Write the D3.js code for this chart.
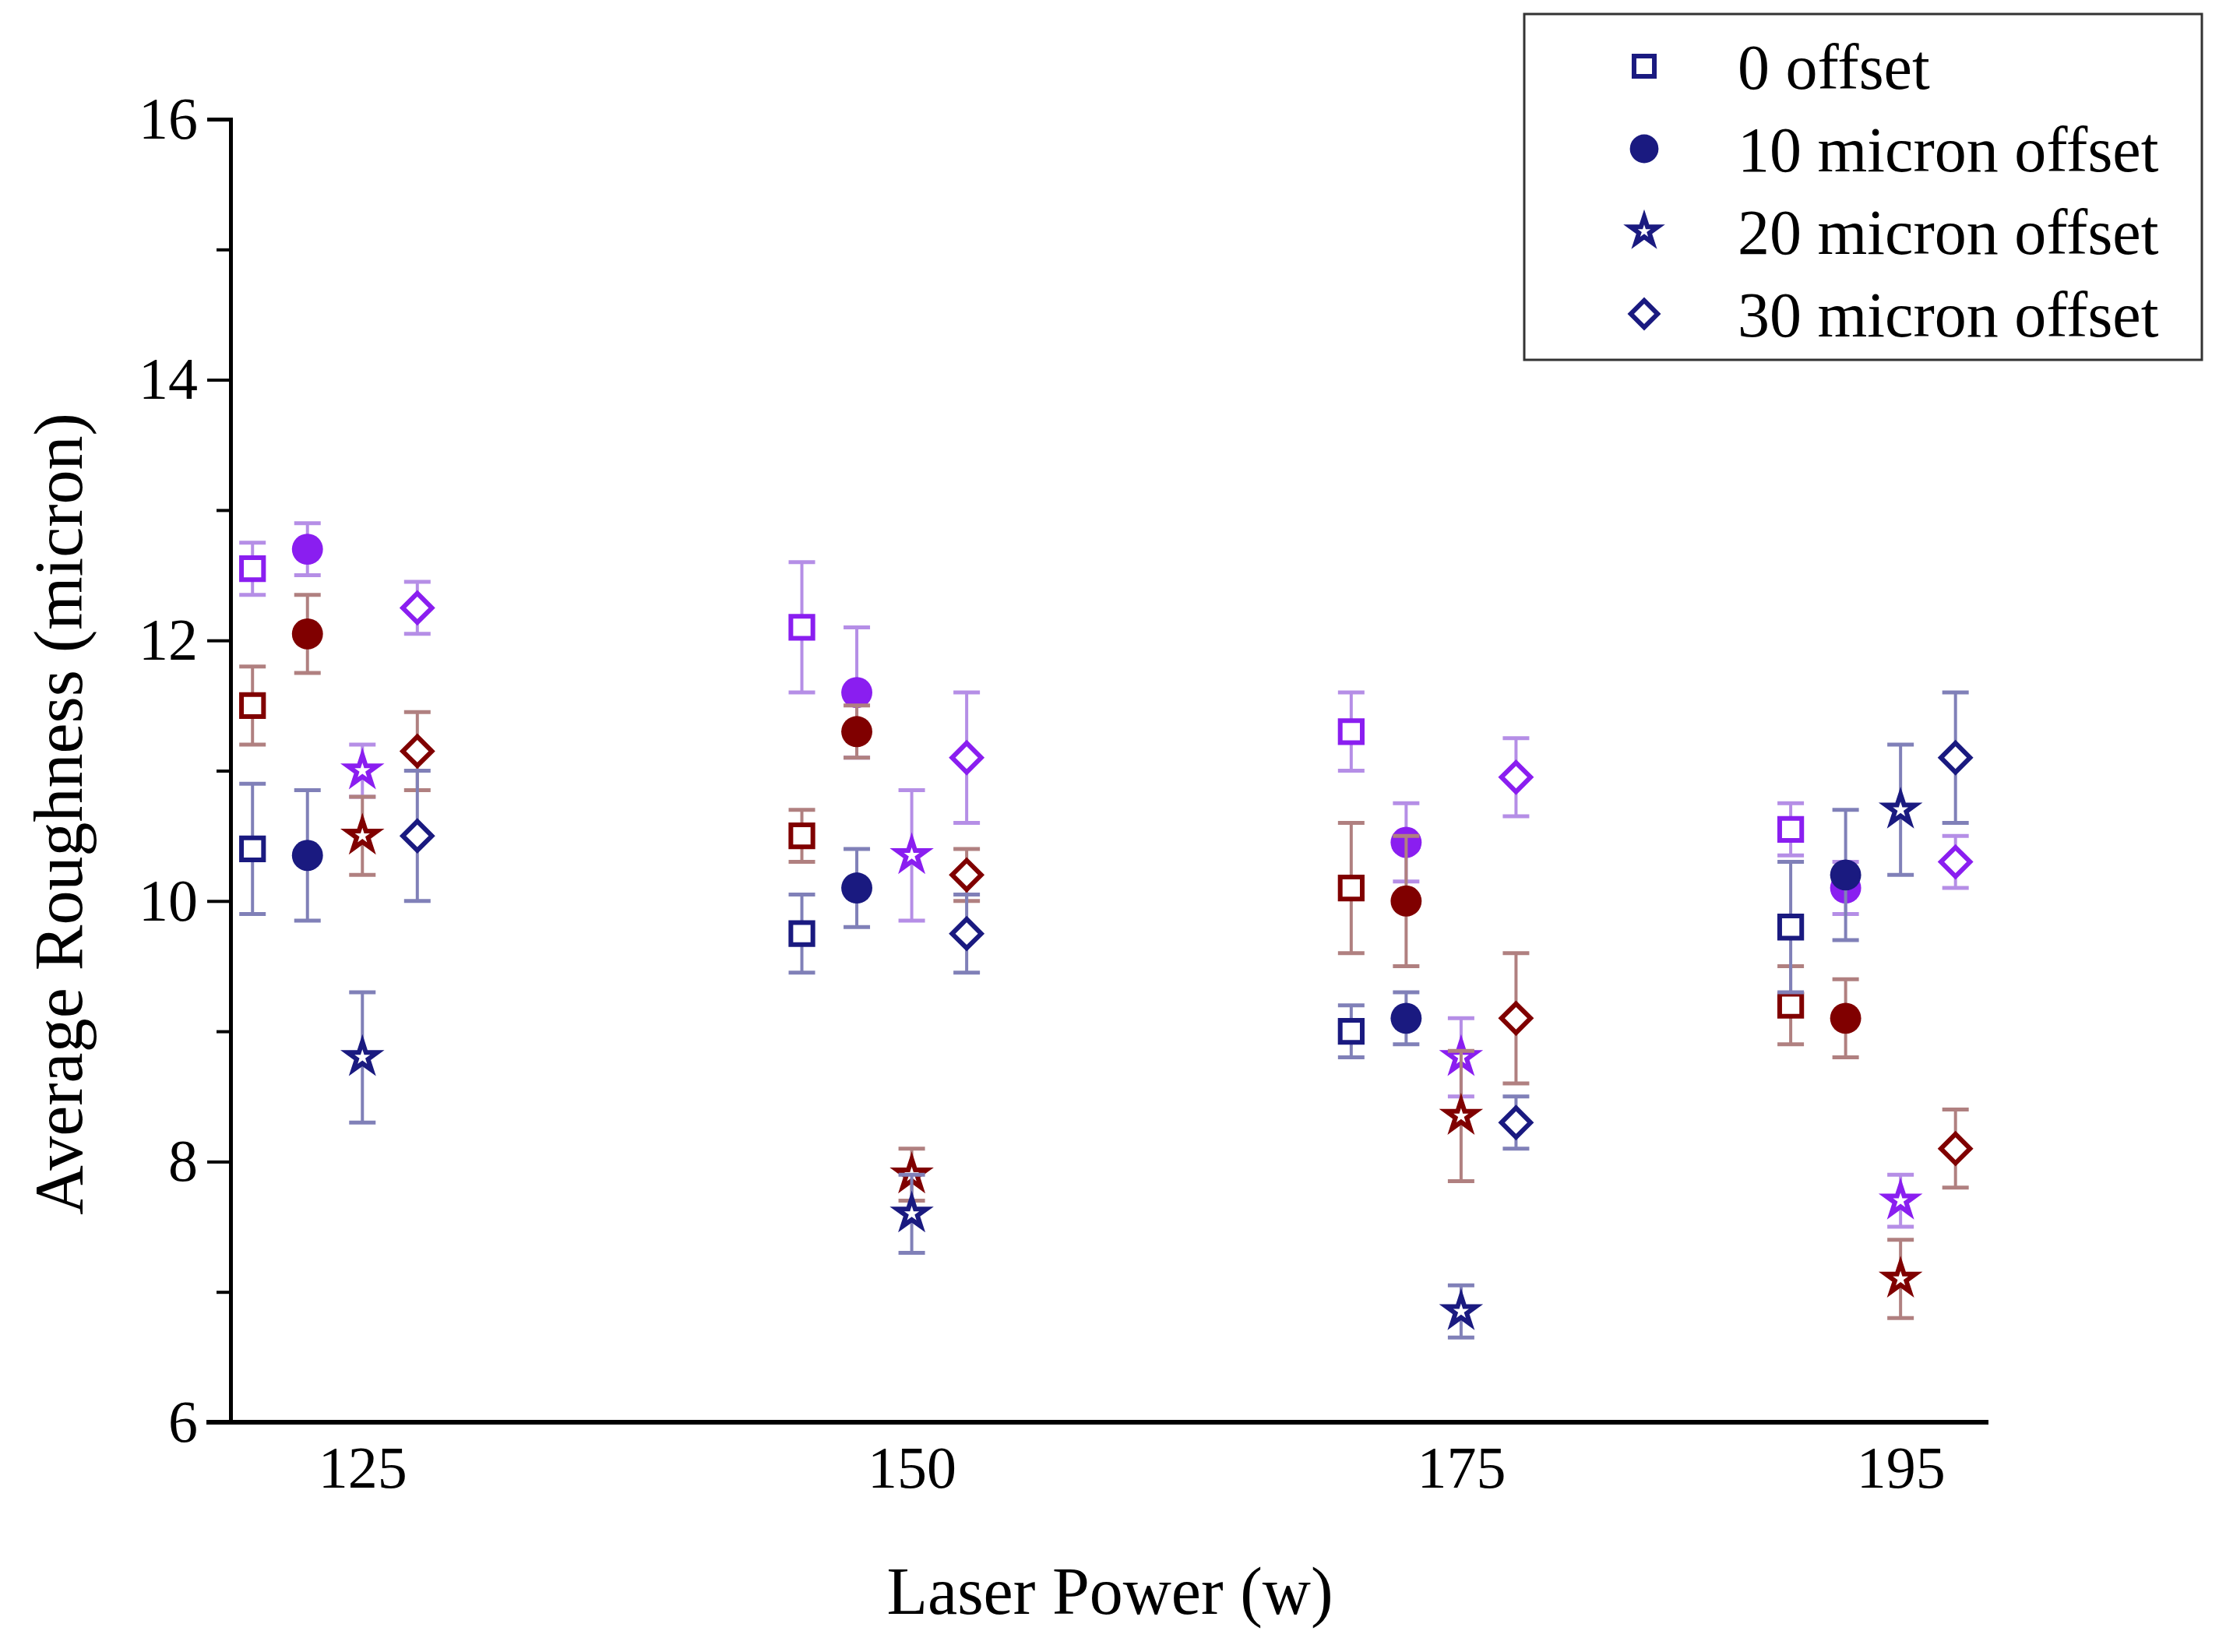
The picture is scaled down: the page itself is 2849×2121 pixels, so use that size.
<!DOCTYPE html>
<html><head><meta charset="utf-8">
<script src="https://cdnjs.cloudflare.com/ajax/libs/d3/7.8.5/d3.min.js"></script>
<style>body{margin:0;background:#fff}text{font-family:"Liberation Serif","Times New Roman",serif}</style>
</head><body><svg id="c" width="2849" height="2121"></svg>
<script>
const powers=[125,150,175,195];
const seriesNames=["0 offset","10 micron offset","20 micron offset","30 micron offset"];
const shapes=["square","circle","star","diamond"];
const offsets=[-5,-2.5,0,2.5];
const colorNames=["purple","red","navy"];
const colors={purple:"#8a1ef0",red:"#800000",navy:"#1a1a80"};
const errColors={purple:"#b58ee6",red:"#b08080",navy:"#8080b8"};
const values={
 square:{purple:[12.55,12.1,11.3,10.55],red:[11.5,10.5,10.1,9.2],navy:[10.4,9.75,9.0,9.8]},
 circle:{purple:[12.7,11.6,10.45,10.1],red:[12.05,11.3,10.0,9.1],navy:[10.35,10.1,9.1,10.2]},
 star:{purple:[11.0,10.35,8.8,7.7],red:[10.5,7.9,8.35,7.1],navy:[8.8,7.6,6.85,10.7]},
 diamond:{purple:[12.25,11.1,10.95,10.3],red:[11.15,10.2,9.1,8.1],navy:[10.5,9.75,8.3,11.1]}
};
const errors={purple:[0.2,0.5,0.3,0.2],red:[0.3,0.2,0.5,0.3],navy:[0.5,0.3,0.2,0.5]};
const yTicks=[6,8,10,12,14,16];

const svg=d3.select("#c");
const x=d3.scaleLinear().domain([119,199]).range([296,2553]);
const y=d3.scaleLinear().domain([6,16]).range([1826,153]);

const yAx=d3.axisLeft(y).tickValues(d3.range(6,16.01,1)).tickSize(30).tickFormat(d=>yTicks.includes(d)?d:"");
const gy=svg.append("g").attr("transform","translate(296,0)").call(yAx);
gy.selectAll(".tick line").attr("stroke","#000").attr("stroke-width",4).attr("x2",d=>yTicks.includes(d)?-30:-18);
gy.select(".domain").attr("stroke","#000").attr("stroke-width",5);
gy.selectAll("text").attr("font-size",76).attr("x",-42).attr("font-family","Liberation Serif");
const xAx=d3.axisBottom(x).tickValues(powers).tickSize(0).tickPadding(30);
const gx=svg.append("g").attr("transform","translate(0,1826)").call(xAx);
gx.select(".domain").remove();
gx.append("line").attr("x1",265).attr("x2",2553).attr("stroke","#000").attr("stroke-width",6);
gx.selectAll("text").attr("font-size",76).attr("font-family","Liberation Serif").attr("fill","#000");

svg.append("text").attr("x",1425).attr("y",2072).attr("text-anchor","middle").attr("font-size",86).text("Laser Power (w)");
svg.append("text").attr("transform","translate(105,1045) rotate(-90)").attr("text-anchor","middle").attr("font-size",88).text("Average Roughness (micron)");

const symTypes={square:d3.symbolSquare,circle:d3.symbolCircle,star:d3.symbolStar,diamond:d3.symbolSquare};
const symSize={square:800,circle:1250,star:450,diamond:700};
function marker(g,shape,col,cx,cy,sc=1){
  const fill=shape==="circle";
  g.append("path").attr("d",d3.symbol().type(symTypes[shape]).size(symSize[shape]*sc)())
   .attr("transform",`translate(${cx},${cy})`+(shape==="diamond"?" rotate(45)":""))
   .attr("fill",fill?col:"#fff").attr("stroke",col).attr("stroke-width",fill?0:6).attr("stroke-linejoin","miter");
}
const gp=svg.append("g");
shapes.forEach((sh,si)=>{
  colorNames.forEach(cn=>{
    powers.forEach((p,pi)=>{
      const v=values[sh][cn][pi], e=errors[cn][pi];
      const cx=x(p+offsets[si]);
      const g=gp.append("g");
      g.append("line").attr("x1",cx).attr("x2",cx).attr("y1",y(v+e)).attr("y2",y(v-e)).attr("stroke",errColors[cn]).attr("stroke-width",4);
      [v+e,v-e].forEach(t=>g.append("line").attr("x1",cx-17).attr("x2",cx+17).attr("y1",y(t)).attr("y2",y(t)).attr("stroke",errColors[cn]).attr("stroke-width",5));
      marker(g,sh,colors[cn],cx,y(v));
    });
  });
});

const lg=svg.append("g");
lg.append("rect").attr("x",1957).attr("y",18).attr("width",870).attr("height",444).attr("fill","#fff").attr("stroke","#333").attr("stroke-width",3);
seriesNames.forEach((n,i)=>{
  const ly=85+i*106;
  marker(lg,shapes[i],colors.navy,2111,ly,0.85);
  lg.append("text").attr("x",2231).attr("y",ly).attr("dy","0.35em").attr("font-size",82).text(n);
});
</script></body></html>
